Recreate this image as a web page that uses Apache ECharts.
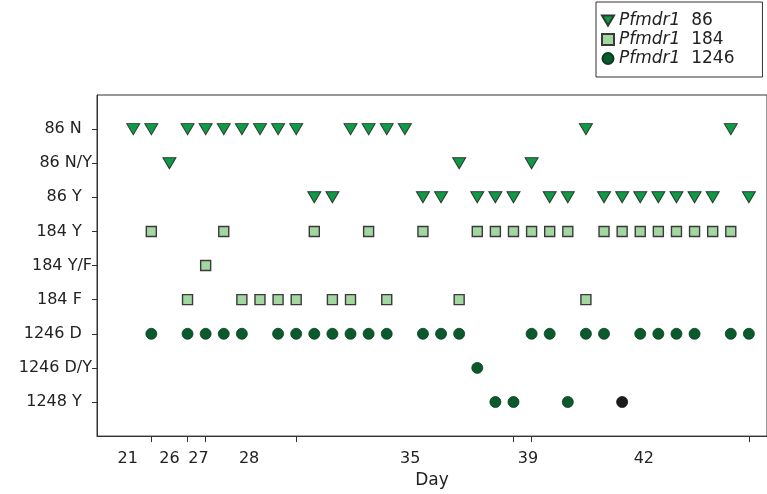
<!DOCTYPE html>
<html>
<head>
<meta charset="utf-8">
<script src="https://cdn.jsdelivr.net/npm/echarts@6/dist/echarts.min.js"></script>
<style>
  html, body { margin: 0; padding: 0; background: #fff; }
  #chart { width: 767px; height: 494px; }
</style>
</head>
<body>
<div id="chart"></div>
<script>
// genotype rows, top to bottom
const rows = ['86 N  ', '86 N/Y', '86 Y  ', '184 Y  ', '184 Y/F', '184 F  ', '1246 D  ', '1246 D/Y', '1248 Y  '];

// sample index (x) for each genotype row
const n86 = [0, 1, 3, 4, 5, 6, 7, 8, 9, 12, 13, 14, 15, 25, 33];
const ny86 = [2, 18, 22];
const y86 = [10, 11, 16, 17, 19, 20, 21, 23, 24, 26, 27, 28, 29, 30, 31, 32, 34];
const y184 = [1, 5, 10, 13, 16, 19, 20, 21, 22, 23, 24, 26, 27, 28, 29, 30, 31, 32, 33];
const yf184 = [4];
const f184 = [3, 6, 7, 8, 9, 11, 12, 14, 18, 25];
const d1246 = [1, 3, 4, 5, 6, 8, 9, 10, 11, 12, 13, 14, 16, 17, 18, 22, 23, 25, 26, 28, 29, 30, 31, 33, 34];
const dy1246 = [19];
const y1248 = [20, 21, 24, 27];
const y1248Black = [27];

// x axis: tick marks and day labels
const dayTicks = [1, 3, 4, 9, 21, 22, 34];
const dayLabels = ['21', '26', '27', '28', '35', '39', '42'];
const dayLabelPos = [-0.3, 2.0, 3.6, 6.4, 15.3, 21.8, 28.2];

function pts(xs, row) {
  return xs.map(x => [x, row]);
}

const s86 = [].concat(pts(n86, 1), pts(ny86, 2), pts(y86, 3));
const s184 = [].concat(pts(y184, 4), pts(yf184, 5), pts(f184, 6));
const s1246 = [].concat(pts(d1246, 7), pts(dy1246, 8),
  y1248.map(x => y1248Black.includes(x)
    ? { value: [x, 9], itemStyle: { color: '#1c1c1c', borderColor: '#111' } }
    : [x, 9]));

const font = 'DejaVu Sans, Arial, sans-serif';
const chart = echarts.init(document.getElementById('chart'));

chart.setOption({
  animation: false,
  textStyle: { fontFamily: font },
  grid: {
    left: 97, right: -1, top: 95, bottom: 54,
    show: true, borderColor: '#333', borderWidth: 1
  },
  legend: {
    orient: 'vertical',
    left: 596, top: 2,
    borderColor: '#333', borderWidth: 1,
    padding: [10, 28, 10, 5],
    itemGap: 2,
    itemWidth: 12, itemHeight: 11,
    data: [
      { name: 'Pfmdr1 86', icon: 'path://M0,0L12,0L6,10Z' },
      { name: 'Pfmdr1 184', icon: 'rect' },
      { name: 'Pfmdr1 1246', icon: 'circle' }
    ],
    formatter: name => '{i|Pfmdr1}  ' + name.split(' ')[1],
    textStyle: {
      fontSize: 17, color: '#222', fontFamily: font,
      rich: { i: { fontStyle: 'italic', fontSize: 17, color: '#222', fontFamily: font } }
    }
  },
  xAxis: {
    type: 'value',
    min: -2, max: 35,
    name: 'Day',
    nameLocation: 'middle',
    nameGap: 34,
    nameTextStyle: { fontSize: 17, color: '#222' },
    splitLine: { show: false },
    axisLine: { show: true, onZero: false, lineStyle: { color: '#333' } },
    axisTick: { show: true, length: 6, customValues: dayTicks, lineStyle: { color: '#333' } },
    axisLabel: {
      customValues: dayLabelPos,
      formatter: v => dayLabels[dayLabelPos.indexOf(v)] || '',
      fontSize: 16, color: '#222', margin: 15
    }
  },
  yAxis: {
    type: 'value',
    inverse: true,
    min: 0, max: 10,
    splitLine: { show: false },
    axisLine: { show: true, onZero: false, lineStyle: { color: '#333' } },
    axisTick: { show: true, length: 5, customValues: [1, 2, 3, 4, 5, 6, 7, 8, 9], lineStyle: { color: '#333' } },
    axisLabel: {
      customValues: [1, 2, 3, 4, 5, 6, 7, 8, 9],
      formatter: v => rows[v - 1] || '',
      fontSize: 16, color: '#222', margin: 5
    }
  },
  series: [
    {
      name: 'Pfmdr1 86',
      type: 'scatter',
      symbol: 'triangle',
      symbolRotate: 180,
      symbolSize: [13, 11],
      itemStyle: { color: '#109a48', borderColor: '#2a3a2e', borderWidth: 1, opacity: 1 },
      data: s86
    },
    {
      name: 'Pfmdr1 184',
      type: 'scatter',
      symbol: 'rect',
      symbolSize: 10,
      itemStyle: { color: '#a4d6a2', borderColor: '#3a3a3a', borderWidth: 1.4, opacity: 1 },
      data: s184
    },
    {
      name: 'Pfmdr1 1246',
      type: 'scatter',
      symbol: 'circle',
      symbolSize: 11,
      itemStyle: { color: '#0a5a2c', borderColor: '#073d1e', borderWidth: 0.8, opacity: 1 },
      data: s1246
    }
  ]
});
</script>
</body>
</html>
